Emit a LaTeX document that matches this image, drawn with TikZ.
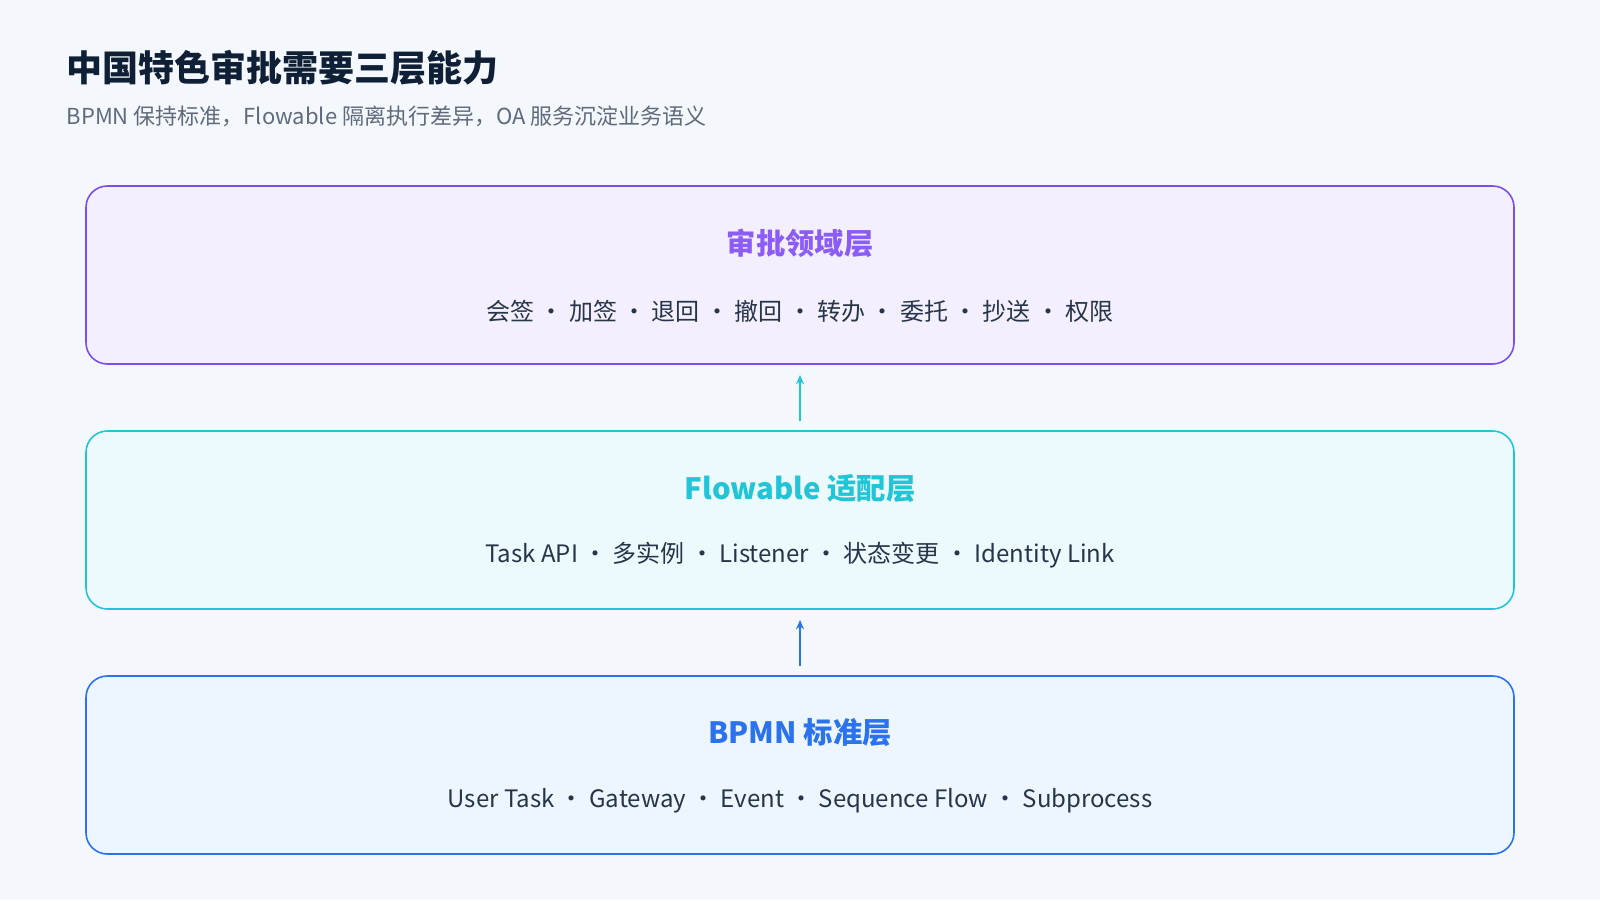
\documentclass[tikz,border=0pt]{standalone}
\usepackage{fontspec}
\setmainfont{Noto Sans CJK SC}
\usetikzlibrary{arrows.meta}
\definecolor{bg}{HTML}{F4F7FC}
\definecolor{ttl}{HTML}{0F1F35}
\definecolor{sub}{HTML}{5F6B7A}
\definecolor{pur}{HTML}{7C4DEB}
\definecolor{purt}{HTML}{8B5CF6}
\definecolor{purf}{HTML}{F3EFFE}
\definecolor{cya}{HTML}{22C5D5}
\definecolor{cyaf}{HTML}{ECF9FD}
\definecolor{blu}{HTML}{2B73EE}
\definecolor{bluf}{HTML}{EDF5FE}
\tikzset{
 layer/.style={draw=#1, line width=1.2pt, rounded corners=16pt},
 ltitle/.style={font=\fontsize{22}{26}\selectfont\bfseries, text=#1, anchor=center},
 lbody/.style={font=\fontsize{18}{22}\selectfont, text=ttl!90, anchor=center},
 arr/.style={draw=#1, line width=1.2pt, -{Stealth[length=7pt,width=6pt]}}
}
\begin{document}
\begin{tikzpicture}[x=0.75pt,y=-0.75pt]
\fill[bg] (0,0) rectangle (1600,900);
\useasboundingbox (0,0) rectangle (1600,900);
\node[anchor=west, font=\fontsize{27}{32}\selectfont\bfseries, text=ttl] (title) at (62,68) {中国特色审批需要三层能力};
\node[anchor=west, font=\fontsize{16.5}{20}\selectfont, text=sub] (subt) at (62,116) {BPMN 保持标准，Flowable 隔离执行差异，OA 服务沉淀业务语义};

\filldraw[layer=pur, fill=purf] (86,186) rectangle (1514,364);
\node (b1) at (800,275) {};
\node[ltitle=purt] (t1) at (800,243) {审批领域层};
\node[lbody] (d1) at (800,311) {会签 · 加签 · 退回 · 撤回 · 转办 · 委托 · 抄送 · 权限};

\filldraw[layer=cya, fill=cyaf] (86,431) rectangle (1514,609);
\node[ltitle=cya] (t2) at (800,488) {Flowable 适配层};
\node[lbody] (d2) at (800,555) {Task API · 多实例 · Listener · 状态变更 · Identity Link};

\filldraw[layer=blu, fill=bluf] (86,676) rectangle (1514,854);
\node[ltitle=blu] (t3) at (800,733) {BPMN 标准层};
\node[lbody] (d3) at (800,801) {User Task · Gateway · Event · Sequence Flow · Subprocess};

\coordinate (a1s) at (800,421);
\coordinate (a1e) at (800,375);
\coordinate (a2s) at (800,666);
\coordinate (a2e) at (800,620);
\draw[arr=cya] (a1s) -- (a1e);
\draw[arr=blu] (a2s) -- (a2e);
\end{tikzpicture}
\end{document}
